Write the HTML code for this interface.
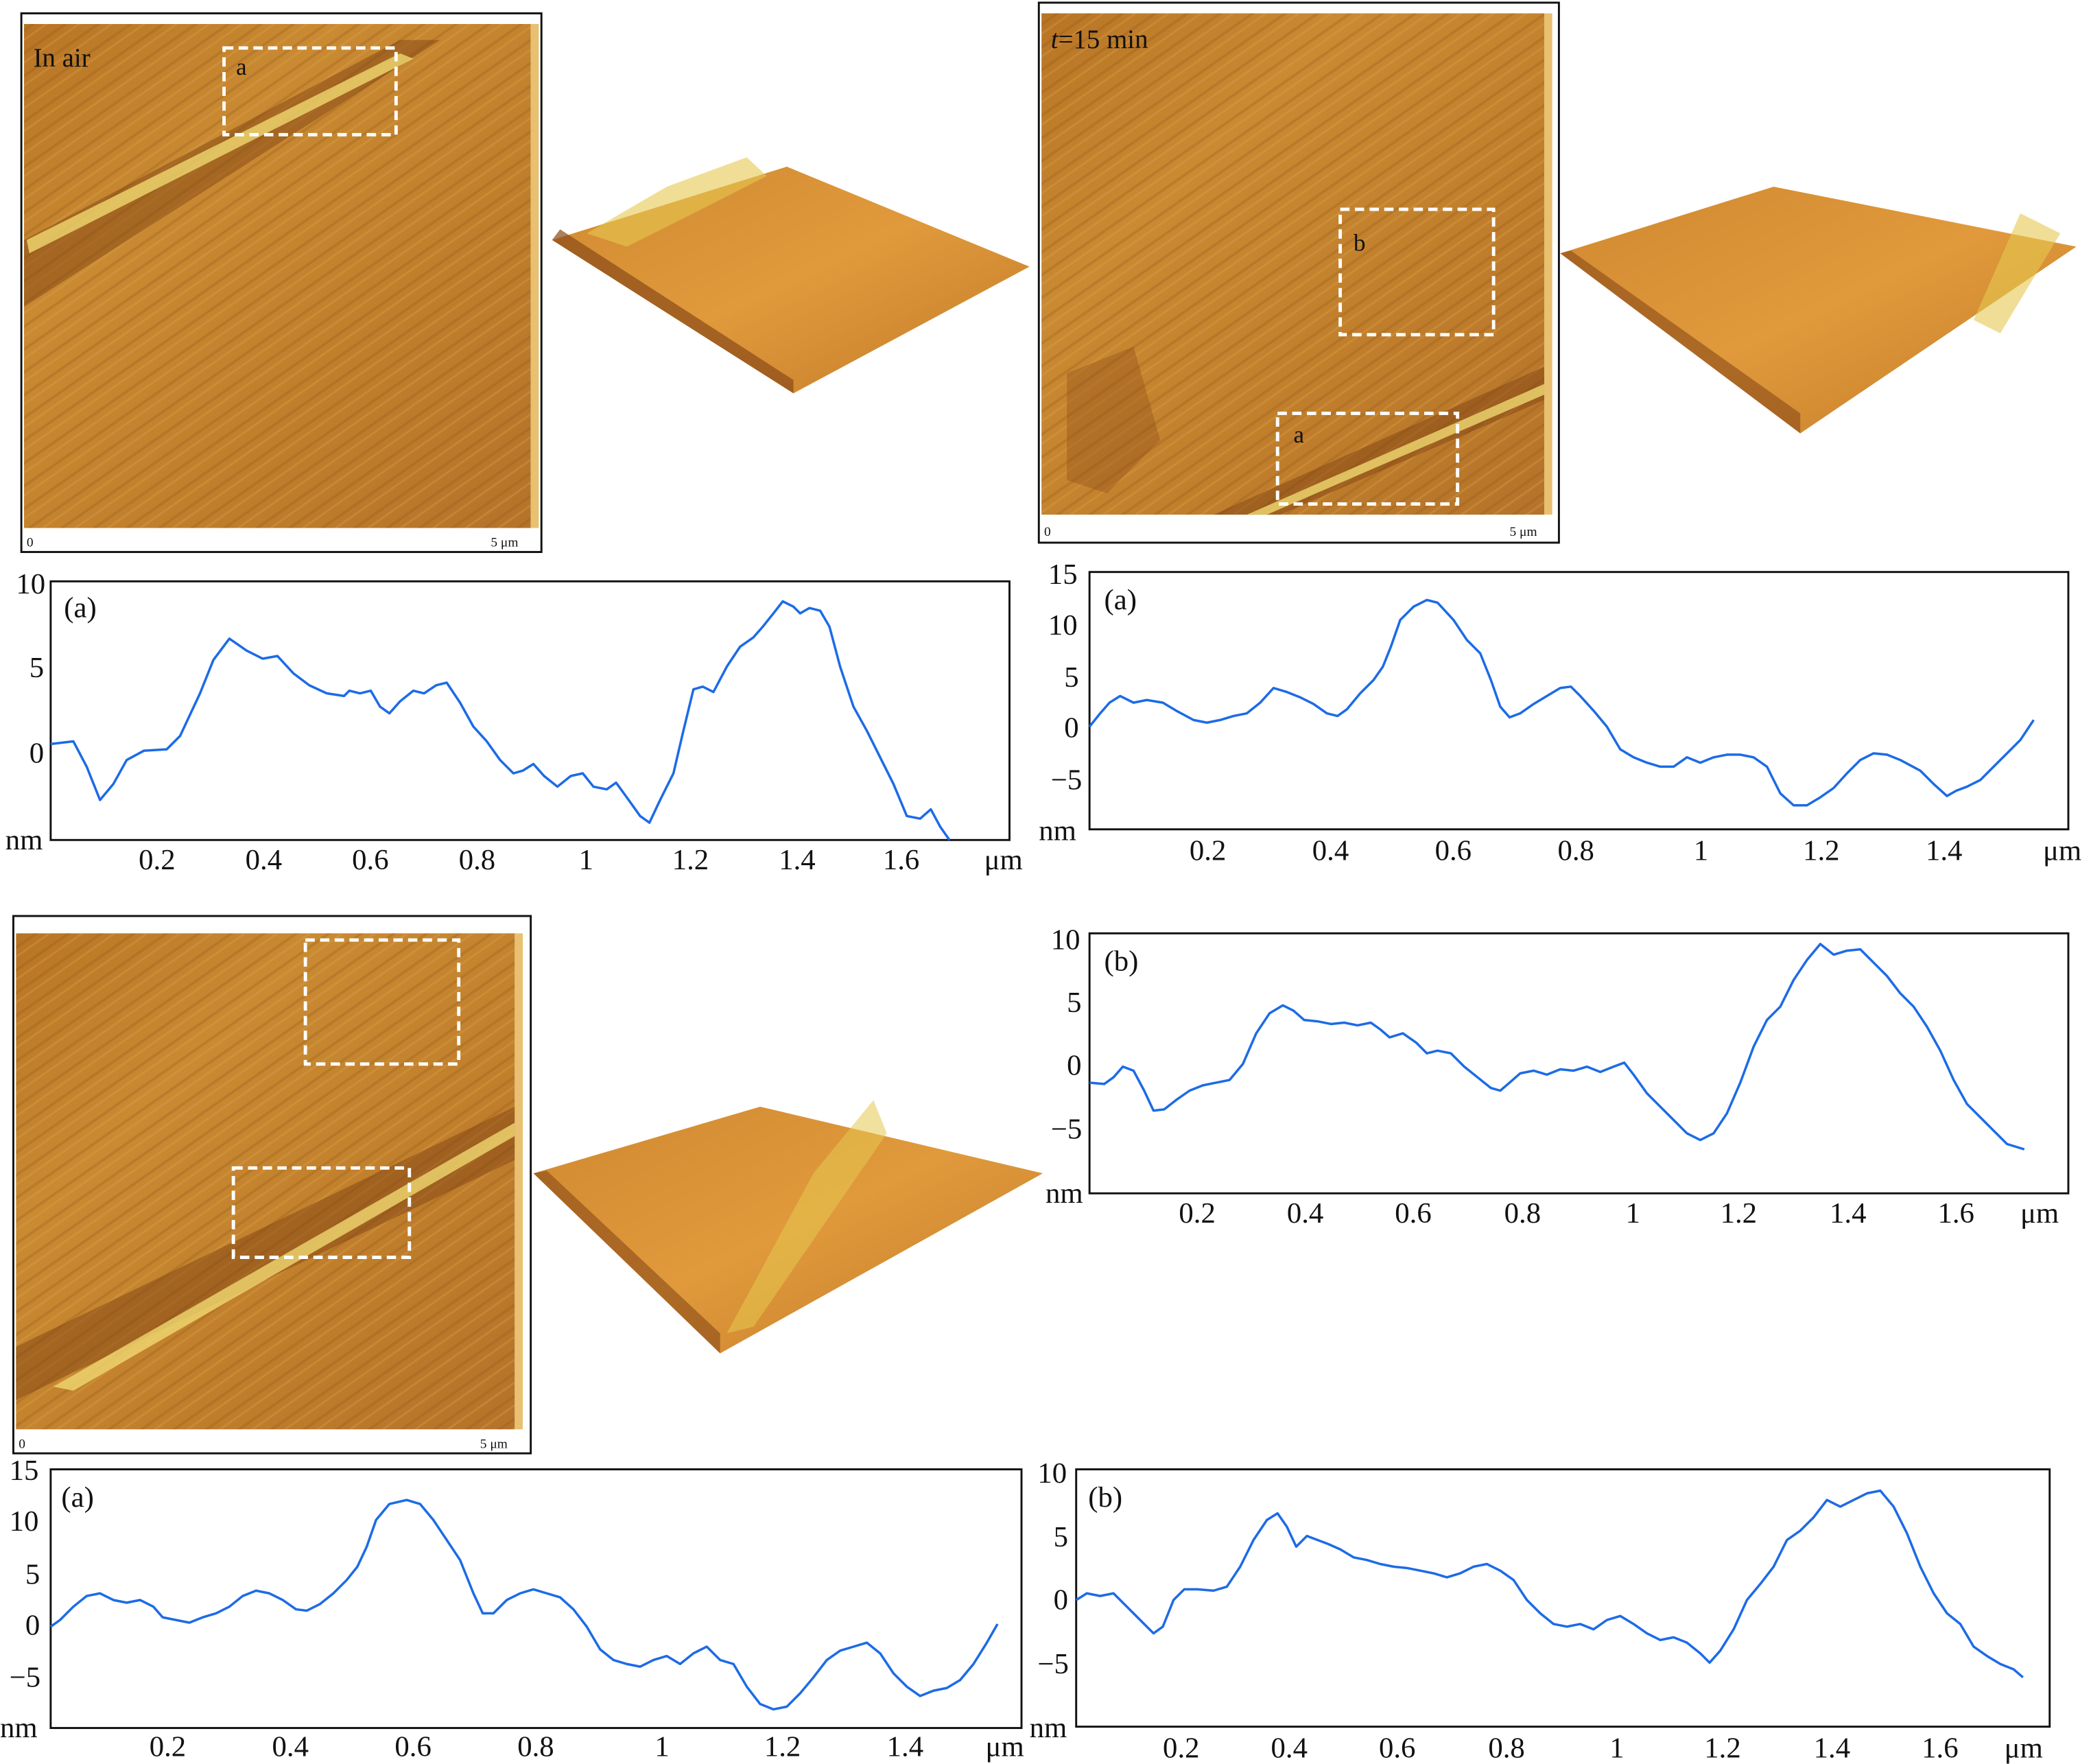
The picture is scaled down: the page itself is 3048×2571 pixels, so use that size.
<!DOCTYPE html>
<html><head><meta charset="utf-8"><style>
html,body{margin:0;padding:0;background:#fff;}
svg{display:block;}
text{font-family:"Liberation Serif",serif;fill:#111;}
</style></head><body>
<svg width="3048" height="2571" viewBox="0 0 1568 1323" preserveAspectRatio="none" xmlns="http://www.w3.org/2000/svg">
<defs>
<linearGradient id="afm" x1="0" y1="0" x2="1" y2="1">
<stop offset="0" stop-color="#b87424"/><stop offset="0.3" stop-color="#c98a32"/>
<stop offset="0.6" stop-color="#c2802c"/><stop offset="1" stop-color="#b5732a"/></linearGradient>
<pattern id="str" width="14" height="14" patternUnits="userSpaceOnUse" patternTransform="rotate(-35)">
<rect width="14" height="14" fill="none"/><rect width="14" height="2" fill="#8a5218" opacity="0.25"/><rect y="6" width="14" height="1.5" fill="#e0a850" opacity="0.3"/></pattern>
<linearGradient id="s3d" x1="0" y1="0" x2="1" y2="1">
<stop offset="0" stop-color="#d08830"/><stop offset="0.5" stop-color="#e09a3c"/><stop offset="1" stop-color="#c47a28"/></linearGradient>
</defs>
<rect width="1568" height="1323" fill="#fff"/>

<!-- AFM 1 -->
<rect x="16" y="10" width="390" height="404" fill="#fff" stroke="#111" stroke-width="1.5"/>
<rect x="18" y="18" width="380" height="378" fill="url(#afm)"/>
<rect x="18" y="18" width="380" height="378" fill="url(#str)"/>
<polygon points="18,180 300,30 330,30 18,230" fill="#7a3e12" opacity="0.45"/>
<polygon points="20,180 300,40 310,44 22,190" fill="#f0d870" opacity="0.8"/>
<rect x="398" y="18" width="6" height="378" fill="#e8c070"/>
<text x="25" y="50" font-size="20">In  air</text>
<rect x="168" y="36" width="129" height="65" fill="none" stroke="#fff" stroke-width="2.5" stroke-dasharray="7,4"/>
<text x="177" y="56" font-size="18">a</text>
<text x="20" y="410" font-size="10">0</text><text x="368" y="410" font-size="10">5 μm</text>

<!-- 3D 1 -->
<polygon points="414,180 590,125 772,200 595,295" fill="url(#s3d)"/>
<polygon points="414,180 595,295 595,285 420,172" fill="#8a4a18" opacity="0.7"/>
<polygon points="440,175 500,140 560,118 575,132 520,160 470,185" fill="#e6c850" opacity="0.6"/>

<!-- AFM 2 -->
<rect x="779" y="2" width="390" height="405" fill="#fff" stroke="#111" stroke-width="1.5"/>
<rect x="781" y="10" width="377" height="376" fill="url(#afm)"/>
<rect x="781" y="10" width="377" height="376" fill="url(#str)"/>
<polygon points="910,386 1158,275 1158,300 960,386" fill="#7a3e12" opacity="0.45"/>
<polygon points="935,386 1158,288 1158,296 950,386" fill="#f0d870" opacity="0.8"/>
<polygon points="800,280 850,260 870,330 830,370 800,360" fill="#8a4a18" opacity="0.35"/>
<rect x="1158" y="10" width="6" height="376" fill="#e8c070"/>
<text x="788" y="36" font-size="20"><tspan font-style="italic">t</tspan>=15 min</text>
<rect x="1005" y="157" width="115" height="94" fill="none" stroke="#fff" stroke-width="2.5" stroke-dasharray="7,4"/>
<text x="1015" y="188" font-size="18">b</text>
<rect x="958" y="310" width="135" height="68" fill="none" stroke="#fff" stroke-width="2.5" stroke-dasharray="7,4"/>
<text x="970" y="332" font-size="18">a</text>
<text x="783" y="402" font-size="10">0</text><text x="1132" y="402" font-size="10">5 μm</text>

<!-- 3D 2 -->
<polygon points="1170,190 1330,140 1557,185 1350,325" fill="url(#s3d)"/>
<polygon points="1170,190 1350,325 1350,310 1178,188" fill="#8a4a18" opacity="0.6"/>
<polygon points="1480,240 1515,160 1545,175 1500,250" fill="#e6c850" opacity="0.6"/>

<!-- AFM 3 -->
<rect x="10" y="687" width="388" height="403" fill="#fff" stroke="#111" stroke-width="1.5"/>
<rect x="12" y="700" width="374" height="372" fill="url(#afm)"/>
<rect x="12" y="700" width="374" height="372" fill="url(#str)"/>
<polygon points="12,1010 386,830 386,870 12,1050" fill="#7a3e12" opacity="0.45"/>
<polygon points="40,1040 386,842 386,852 55,1043" fill="#f0d870" opacity="0.8"/>
<rect x="386" y="700" width="6" height="372" fill="#e8c070"/>
<rect x="229" y="705" width="115" height="93" fill="none" stroke="#fff" stroke-width="2.5" stroke-dasharray="7,4"/>
<rect x="175" y="876" width="132" height="67" fill="none" stroke="#fff" stroke-width="2.5" stroke-dasharray="7,4"/>
<text x="14" y="1086" font-size="10">0</text><text x="360" y="1086" font-size="10">5 μm</text>

<!-- 3D 3 -->
<polygon points="400,880 570,830 782,880 540,1015" fill="url(#s3d)"/>
<polygon points="400,880 540,1015 540,1000 410,878" fill="#8a4a18" opacity="0.6"/>
<polygon points="545,1000 610,880 655,825 665,850 565,995" fill="#e6c850" opacity="0.55"/>

<g fill="none" stroke="#111" stroke-width="1.5">
<rect x="38" y="436" width="719" height="194"/>
<rect x="817" y="429" width="734" height="193"/>
<rect x="817" y="700" width="734" height="195"/>
<rect x="38" y="1102" width="728" height="194"/>
<rect x="807" y="1102" width="730" height="193"/>
</g>
<g fill="none" stroke="#1c6be6" stroke-width="1.8" stroke-linejoin="round">
<polyline points="38,558 55,556 65,575 75,600 85,588 95,570 108,563 125,562 135,552 150,520 160,495 172,479 185,488 197,494 208,492 220,505 232,514 245,520 258,522 262,518 270,520 278,518 285,530 292,535 300,526 310,518 318,520 327,514 335,512 345,527 355,545 365,556 375,570 385,580 392,578 400,573 408,582 418,590 428,582 437,580 445,590 455,592 462,587 470,598 480,612 487,617 495,600 505,580 512,550 520,517 527,515 535,519 545,500 555,485 565,478 572,470 580,460 587,451 595,455 600,460 607,456 615,458 622,470 630,500 640,530 650,548 660,568 670,588 680,612 690,614 698,607 705,620 712,630"/>
<polyline points="817,545 825,535 832,527 840,522 850,527 860,525 872,527 882,533 895,540 905,542 915,540 925,537 935,535 945,527 955,516 965,519 975,523 985,528 995,535 1003,537 1010,532 1020,520 1030,510 1037,500 1043,485 1050,465 1060,455 1070,450 1078,452 1090,465 1100,480 1110,490 1118,510 1125,530 1132,538 1140,535 1150,528 1160,522 1170,516 1178,515 1185,522 1195,533 1205,545 1215,562 1225,568 1235,572 1245,575 1255,575 1265,568 1275,572 1285,568 1295,566 1305,566 1315,568 1325,575 1335,595 1345,604 1355,604 1365,598 1375,591 1385,580 1395,570 1405,565 1415,566 1425,570 1440,578 1450,588 1460,597 1467,593 1475,590 1485,585 1495,575 1505,565 1515,555 1525,540"/>
<polyline points="817,812 828,813 835,808 842,800 850,803 858,818 865,833 873,832 882,825 892,818 902,814 912,812 922,810 932,798 942,775 952,760 962,754 970,758 978,765 988,766 998,768 1008,767 1018,769 1028,767 1035,772 1042,778 1052,775 1062,782 1070,790 1078,788 1088,790 1098,800 1108,808 1118,816 1125,818 1132,812 1140,805 1150,803 1160,806 1170,802 1180,803 1190,800 1200,804 1210,800 1218,797 1225,806 1235,820 1245,830 1255,840 1265,850 1275,855 1285,850 1295,835 1305,812 1315,785 1325,765 1335,755 1345,735 1355,720 1365,708 1375,716 1385,713 1395,712 1405,722 1415,732 1425,745 1435,755 1445,770 1455,788 1465,810 1475,828 1485,838 1495,848 1505,858 1518,862"/>
<polyline points="38,1220 45,1215 55,1205 65,1197 75,1195 85,1200 95,1202 105,1200 115,1205 122,1213 132,1215 142,1217 152,1213 162,1210 172,1205 182,1197 192,1193 202,1195 212,1200 222,1207 230,1208 240,1203 250,1195 260,1185 268,1175 275,1160 282,1140 292,1128 305,1125 315,1128 325,1140 335,1155 345,1170 355,1195 362,1210 370,1210 380,1200 390,1195 400,1192 410,1195 420,1198 430,1207 440,1220 450,1237 460,1245 470,1248 480,1250 490,1245 500,1242 510,1248 520,1240 530,1235 540,1245 550,1248 560,1265 570,1278 580,1282 590,1280 600,1270 610,1258 620,1245 630,1238 640,1235 650,1232 660,1240 670,1255 680,1265 690,1272 700,1268 710,1266 720,1260 730,1248 740,1232 748,1218"/>
<polyline points="807,1200 815,1195 825,1197 835,1195 845,1205 855,1215 865,1225 872,1220 880,1200 888,1192 898,1192 910,1193 920,1190 930,1175 940,1155 950,1140 958,1135 965,1145 972,1160 980,1152 988,1155 996,1158 1005,1162 1015,1168 1025,1170 1035,1173 1045,1175 1055,1176 1065,1178 1075,1180 1085,1183 1095,1180 1105,1175 1115,1173 1125,1178 1135,1185 1145,1200 1155,1210 1165,1218 1175,1220 1185,1218 1195,1222 1205,1215 1215,1212 1225,1218 1235,1225 1245,1230 1255,1228 1265,1232 1275,1240 1282,1247 1290,1238 1300,1222 1310,1200 1320,1188 1330,1175 1340,1155 1350,1148 1360,1138 1370,1125 1380,1130 1390,1125 1400,1120 1410,1118 1420,1130 1430,1150 1440,1175 1450,1195 1460,1210 1470,1218 1480,1235 1490,1242 1500,1248 1510,1252 1517,1258"/>
</g>

<g font-size="22">
<text x="48" y="463">(a)</text>
<text x="12" y="445">10</text><text x="22" y="508">5</text><text x="22" y="572">0</text><text x="4" y="637">nm</text>
<text x="104" y="652">0.2</text><text x="184" y="652">0.4</text><text x="264" y="652">0.6</text><text x="344" y="652">0.8</text><text x="434" y="652">1</text><text x="504" y="652">1.2</text><text x="584" y="652">1.4</text><text x="662" y="652">1.6</text><text x="738" y="652">μm</text>
<text x="828" y="457">(a)</text>
<text x="786" y="438">15</text><text x="786" y="476">10</text><text x="798" y="515">5</text><text x="798" y="553">0</text><text x="788" y="592">−5</text><text x="779" y="630">nm</text>
<text x="892" y="645">0.2</text><text x="984" y="645">0.4</text><text x="1076" y="645">0.6</text><text x="1168" y="645">0.8</text><text x="1270" y="645">1</text><text x="1352" y="645">1.2</text><text x="1444" y="645">1.4</text><text x="1532" y="645">μm</text>
<text x="828" y="728">(b)</text>
<text x="788" y="712">10</text><text x="800" y="759">5</text><text x="800" y="806">0</text><text x="788" y="854">−5</text><text x="784" y="902">nm</text>
<text x="884" y="917">0.2</text><text x="965" y="917">0.4</text><text x="1046" y="917">0.6</text><text x="1128" y="917">0.8</text><text x="1219" y="917">1</text><text x="1290" y="917">1.2</text><text x="1372" y="917">1.4</text><text x="1453" y="917">1.6</text><text x="1515" y="917">μm</text>
<text x="46" y="1130">(a)</text>
<text x="7" y="1110">15</text><text x="7" y="1148">10</text><text x="19" y="1188">5</text><text x="19" y="1226">0</text><text x="7" y="1265">−5</text><text x="0" y="1303">nm</text>
<text x="112" y="1317">0.2</text><text x="204" y="1317">0.4</text><text x="296" y="1317">0.6</text><text x="388" y="1317">0.8</text><text x="491" y="1317">1</text><text x="573" y="1317">1.2</text><text x="665" y="1317">1.4</text><text x="739" y="1317">μm</text>
<text x="816" y="1130">(b)</text>
<text x="778" y="1112">10</text><text x="790" y="1160">5</text><text x="790" y="1207">0</text><text x="778" y="1255">−5</text><text x="772" y="1303">nm</text>
<text x="872" y="1318">0.2</text><text x="953" y="1318">0.4</text><text x="1034" y="1318">0.6</text><text x="1116" y="1318">0.8</text><text x="1207" y="1318">1</text><text x="1278" y="1318">1.2</text><text x="1360" y="1318">1.4</text><text x="1441" y="1318">1.6</text><text x="1503" y="1318">μm</text>
</g>
</svg>
</body></html>
